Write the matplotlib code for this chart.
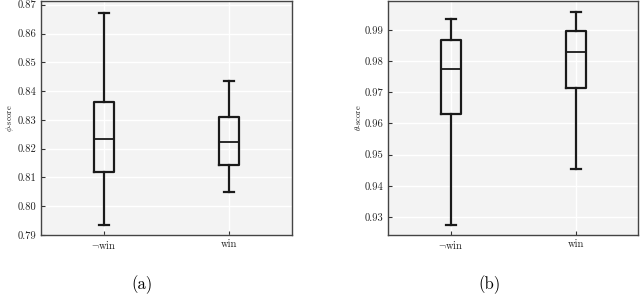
import matplotlib
matplotlib.use("Agg")
import matplotlib.pyplot as plt

plt.rcParams['font.family'] = 'serif'
plt.rcParams['font.serif'] = ['cmr10', 'DejaVu Serif']
plt.rcParams['mathtext.fontset'] = 'cm'
plt.rcParams['axes.formatter.use_mathtext'] = True
plt.rcParams['axes.unicode_minus'] = False

categories = [r'$\neg$win', 'win']

# panel (a): phi-score
a_whislo = [0.7935, 0.8050]
a_q1 = [0.8118, 0.8144]
a_med = [0.8234, 0.8222]
a_q3 = [0.8362, 0.8309]
a_whishi = [0.8673, 0.8434]
a_ticks = [0.79, 0.80, 0.81, 0.82, 0.83, 0.84, 0.85, 0.86, 0.87]

# panel (b): theta-score
b_whislo = [0.9274, 0.9455]
b_q1 = [0.9629, 0.9714]
b_med = [0.9774, 0.9829]
b_q3 = [0.9868, 0.9896]
b_whishi = [0.9936, 0.9959]
b_ticks = [0.93, 0.94, 0.95, 0.96, 0.97, 0.98, 0.99]

fig = plt.figure(figsize=(6.4, 2.95), dpi=100)
W, H = 640, 295
axa = fig.add_axes([41 / W, 1 - 235 / H, 251 / W, 234 / H])
axb = fig.add_axes([388 / W, 1 - 235 / H, 250 / W, 234 / H])


def draw(ax, lo, q1, med, q3, hi, ticks, ylim, ylabel):
    stats = []
    for i in range(len(categories)):
        stats.append(dict(whislo=lo[i], q1=q1[i], med=med[i], q3=q3[i],
                          whishi=hi[i], fliers=[], label=categories[i]))
    lp = dict(color='#1a1a1a', linewidth=1.6)
    ax.bxp(stats, positions=[1, 2], widths=0.16, showfliers=False,
           boxprops=lp, whiskerprops=lp, capprops=lp,
           medianprops=dict(color='#1a1a1a', linewidth=1.3))
    ax.set_facecolor('#f3f3f3')
    ax.grid(True, color='white', linewidth=1.0)
    ax.set_axisbelow(True)
    ax.set_xlim(0.5, 2.5)
    ax.set_ylim(*ylim)
    ax.set_yticks(ticks)
    ax.set_yticklabels(['%.2f' % t for t in ticks])
    ax.tick_params(direction='in', length=3, width=0.8, color='#333333',
                   labelsize=7.6, labelcolor='#222222', pad=3)
    for s in ax.spines.values():
        s.set_color('#444444')
        s.set_linewidth(1.0)
    ax.set_ylabel(ylabel, fontsize=6, color='#222222', labelpad=1.5)


draw(axa, a_whislo, a_q1, a_med, a_q3, a_whishi, a_ticks, (0.79, 0.8713), r'$\phi$-score')
draw(axb, b_whislo, b_q1, b_med, b_q3, b_whishi, b_ticks, (0.9242, 0.9993), r'$\theta$-score')

fig.text(142 / W, 1 - 285 / H, '(a)', ha='center', va='center', fontsize=12)
fig.text(489 / W, 1 - 285 / H, '(b)', ha='center', va='center', fontsize=12)

fig.savefig('out.png', dpi=100)
